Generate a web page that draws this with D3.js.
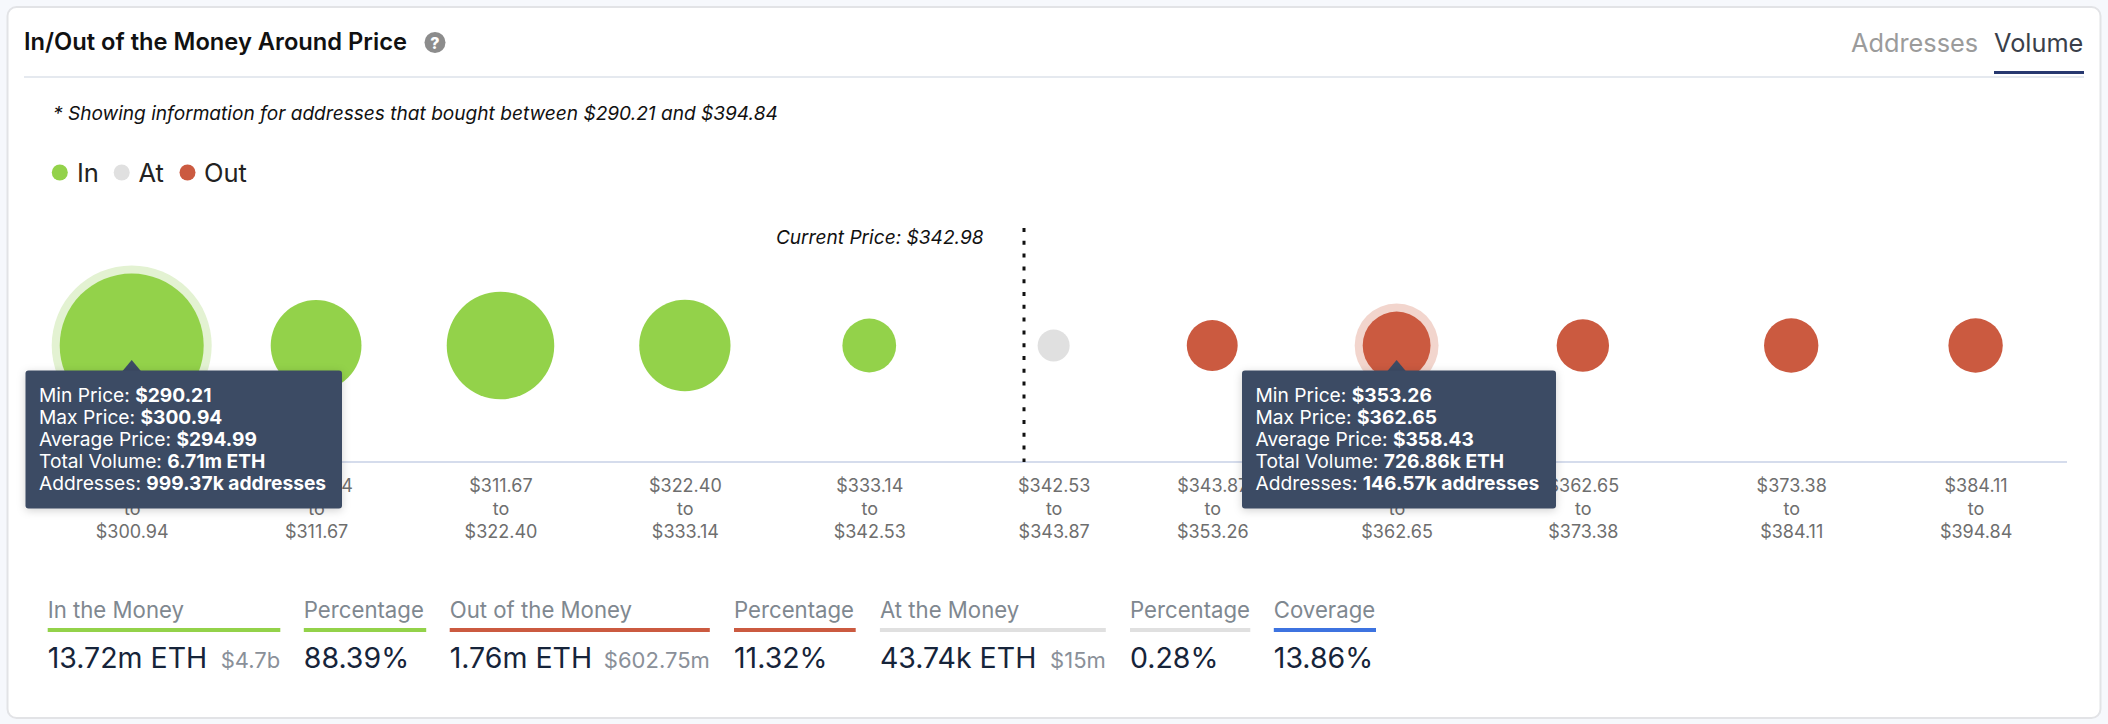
<!DOCTYPE html>
<html>
<head>
<meta charset="utf-8">
<script src="https://cdn.jsdelivr.net/npm/d3@7"></script>
<style>
  html, body { margin: 0; padding: 0; background: #f6f8fc; }
  svg { display: block; font-family: Inter, "Noto Sans", sans-serif; }
</style>
</head>
<body>
<div id="chart"></div>
<script>
function createChart() {
    const width = 2108;
    const height = 724;
    const axisY = 462;
    const bubbleY = 345.5;

    const colors = {In: "#93d24a", At: "#e0e0e0", Out: "#cb5a40"};
    const halos = {In: "#e3f2d2", Out: "#f2d5cd"};

    // volume is in thousands of ETH, slot is the column position on the axis
    const data = [
        {slot: 0, from: "$290.21", to: "$300.94", volume: 6710, type: "In", active: true},
        {slot: 1, from: "$300.94", to: "$311.67", volume: 1780, type: "In"},
        {slot: 2, from: "$311.67", to: "$322.40", volume: 2930, type: "In"},
        {slot: 3, from: "$322.40", to: "$333.14", volume: 1810, type: "In"},
        {slot: 4, from: "$333.14", to: "$342.53", volume: 336, type: "In"},
        {slot: 5, from: "$342.53", to: "$343.87", volume: 43.74, type: "At"},
        {slot: 5.86, from: "$343.87", to: "$353.26", volume: 278, type: "Out"},
        {slot: 6.86, from: "$353.26", to: "$362.65", volume: 726.86, type: "Out", active: true},
        {slot: 7.87, from: "$362.65", to: "$373.38", volume: 307, type: "Out"},
        {slot: 9, from: "$373.38", to: "$384.11", volume: 349, type: "Out"},
        {slot: 10, from: "$384.11", to: "$394.84", volume: 349, type: "Out"}
    ];

    const tooltips = [
        {slot: 0, left: 25.5, rows: [["Min Price: ", "$290.21"], ["Max Price: ", "$300.94"], ["Average Price: ", "$294.99"], ["Total Volume: ", "6.71m ETH"], ["Addresses: ", "999.37k addresses"]], w: 316.5},
        {slot: 6.86, left: 1242, rows: [["Min Price: ", "$353.26"], ["Max Price: ", "$362.65"], ["Average Price: ", "$358.43"], ["Total Volume: ", "726.86k ETH"], ["Addresses: ", "146.57k addresses"]], w: 314}
    ];

    const stats = [
        {label: "In the Money", value: "13.72m ETH", sub: "$4.7b", x0: 47.7, x1: 280.3, color: colors.In},
        {label: "Percentage", value: "88.39%", x0: 303.8, x1: 426.2, color: colors.In},
        {label: "Out of the Money", value: "1.76m ETH", sub: "$602.75m", x0: 449.7, x1: 709.8, color: colors.Out},
        {label: "Percentage", value: "11.32%", x0: 734, x1: 855.7, color: colors.Out},
        {label: "At the Money", value: "43.74k ETH", sub: "$15m", x0: 879.9, x1: 1105.8, color: colors.At},
        {label: "Percentage", value: "0.28%", x0: 1130, x1: 1250.3, color: colors.At},
        {label: "Coverage", value: "13.86%", x0: 1273.8, x1: 1376, color: "#3d73e0"}
    ];

    const x = d3.scaleLinear().domain([0, 10]).range([131.7, 1975.6]);
    const r = d3.scalePow().exponent(0.4).domain([43.74, 6710]).range([16, 72]);

    const svg = d3.select("#chart")
        .append("svg")
        .attr("width", width)
        .attr("height", height)
        .attr("viewBox", [0, 0, width, height]);

    // card
    svg.append("rect")
        .attr("x", 7.5).attr("y", 7).attr("width", 2093).attr("height", 711).attr("rx", 9)
        .attr("fill", "#fff").attr("stroke", "#e2e3e6").attr("stroke-width", 2);

    // header
    svg.append("text").attr("x", 24).attr("y", 50)
        .attr("font-size", 23.7).attr("font-weight", 600).attr("fill", "#111")
        .text("In/Out of the Money Around Price");
    svg.append("circle").attr("cx", 435).attr("cy", 42.5).attr("r", 10.5).attr("fill", "#8c8c8c");
    svg.append("text").attr("x", 435).attr("y", 48.5).attr("text-anchor", "middle")
        .attr("font-size", 16).attr("font-weight", 800).attr("fill", "#fff").text("?");
    svg.append("rect").attr("x", 24).attr("y", 76).attr("width", 2060).attr("height", 2).attr("fill", "#e5e9ef");
    svg.append("rect").attr("x", 1994).attr("y", 71).attr("width", 90).attr("height", 3).attr("fill", "#27386f");
    svg.append("text").attr("x", 1851).attr("y", 51.5).attr("font-size", 25.3).attr("fill", "#9b9b9b").text("Addresses");
    svg.append("text").attr("x", 1994).attr("y", 51.5).attr("font-size", 25.3).attr("fill", "#3a3f4a").text("Volume");

    svg.append("text").attr("x", 53).attr("y", 120)
        .attr("font-size", 19.1).attr("font-style", "italic").attr("fill", "#111")
        .text("* Showing information for addresses that bought between $290.21 and $394.84");

    // legend
    const legend = svg.append("g").selectAll("g")
        .data([["In", 59.8, 77], ["At", 121.7, 138.5], ["Out", 187.5, 204]])
        .join("g");
    legend.append("circle").attr("cx", d => d[1]).attr("cy", 172.5).attr("r", 8).attr("fill", d => colors[d[0]]);
    legend.append("text").attr("x", d => d[2]).attr("y", 181.5).attr("font-size", 25.5).attr("fill", "#222").text(d => d[0]);

    // x axis
    svg.append("line").attr("x1", 30).attr("x2", 2067).attr("y1", axisY).attr("y2", axisY)
        .attr("stroke", "#d5dcec").attr("stroke-width", 2);

    const xAxis = d3.axisBottom(x)
        .tickValues(data.map(d => d.slot))
        .tickSize(0)
        .tickFormat("");

    const axisG = svg.append("g")
        .attr("class", "x-axis")
        .attr("transform", `translate(0,${axisY})`)
        .call(xAxis)
        .call(g => g.select(".domain").remove());

    axisG.selectAll(".tick text")
        .data(data)
        .attr("y", 0)
        .attr("dy", null)
        .attr("font-family", "Inter")
        .attr("font-size", 18)
        .attr("fill", "#6e6e6e")
        .selectAll("tspan")
        .data(d => [[d.from, 30], ["to", 52.5], [d.to, 75.5]])
        .join("tspan")
        .attr("x", 0)
        .attr("y", d => d[1])
        .text(d => d[0]);

    // bubbles
    svg.append("g").selectAll("circle")
        .data(data.filter(d => d.active))
        .join("circle")
        .attr("cx", d => x(d.slot))
        .attr("cy", bubbleY)
        .attr("r", d => r(d.volume) + 8)
        .attr("fill", d => halos[d.type]);

    svg.append("g").attr("class", "bubbles").selectAll("circle")
        .data(data)
        .join("circle")
        .attr("cx", d => x(d.slot))
        .attr("cy", bubbleY)
        .attr("r", d => r(d.volume))
        .attr("fill", d => colors[d.type]);

    // current price marker
    svg.append("line").attr("x1", 1024).attr("x2", 1024).attr("y1", 228).attr("y2", axisY)
        .attr("stroke", "#111").attr("stroke-width", 3).attr("stroke-dasharray", "4 8.8");
    svg.append("text").attr("x", 983.5).attr("y", 244).attr("text-anchor", "end")
        .attr("font-size", 19.1).attr("font-style", "italic").attr("fill", "#111")
        .text("Current Price: $342.98");

    // tooltips
    const tip = svg.append("g").selectAll("g").data(tooltips).join("g");
    tip.append("path")
        .attr("d", d => d3.line()([[x(d.slot) - 10, 372], [x(d.slot), 360], [x(d.slot) + 10, 372]]))
        .attr("fill", "#3c4b64");
    tip.append("rect")
        .attr("x", d => d.left).attr("y", 370.5)
        .attr("width", d => d.w).attr("height", 138).attr("rx", 3)
        .attr("fill", "#3c4b64")
        .style("filter", "drop-shadow(0 2px 4px rgba(0,0,0,0.18))");
    const rows = tip.append("text")
        .attr("font-size", 19.2).attr("fill", "#fff")
        .selectAll("tspan.row")
        .data(d => d.rows.map((row, i) => ({row, i, left: d.left})))
        .join("tspan")
        .attr("x", d => d.left + 13.5)
        .attr("y", d => 401.5 + d.i * 22);
    rows.append("tspan").text(d => d.row[0]);
    rows.append("tspan").attr("font-weight", 700).text(d => d.row[1]);

    // summary figures
    const stat = svg.append("g").selectAll("g").data(stats).join("g");
    stat.append("text").attr("x", d => d.x0).attr("y", 617.5)
        .attr("font-size", 22.2).attr("fill", "#7f8890").text(d => d.label);
    stat.append("rect").attr("x", d => d.x0).attr("y", 628)
        .attr("width", d => d.x1 - d.x0).attr("height", 4).attr("fill", d => d.color);
    const val = stat.append("text").attr("x", d => d.x0).attr("y", 668)
        .attr("font-size", 28.5).attr("fill", "#16243a");
    val.append("tspan").text(d => d.value);
    stat.filter(d => d.sub).append("text")
        .attr("x", d => d.x1).attr("y", 668).attr("text-anchor", "end")
        .attr("font-size", 22).attr("fill", "#8a9099").text(d => d.sub);

    return svg.node();
}

createChart();
</script>
</body>
</html>
